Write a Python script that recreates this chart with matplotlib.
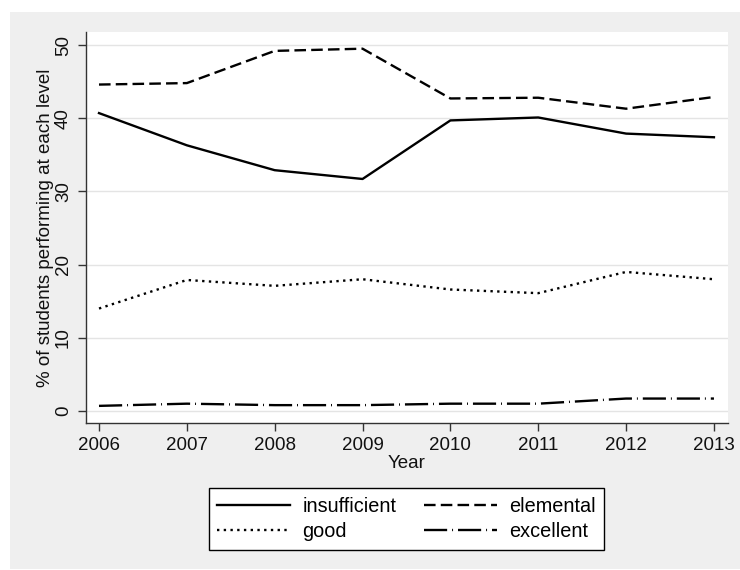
import matplotlib
matplotlib.use("Agg")
import matplotlib.pyplot as plt
from matplotlib.patches import Rectangle

plt.rcParams['font.family'] = ['Liberation Sans', 'DejaVu Sans']

years = [2006, 2007, 2008, 2009, 2010, 2011, 2012, 2013]
insufficient = [40.7, 36.3, 32.9, 31.7, 39.7, 40.1, 37.9, 37.4]
elemental = [44.6, 44.8, 49.2, 49.5, 42.7, 42.8, 41.3, 42.9]
good = [14.0, 17.9, 17.1, 18.0, 16.6, 16.1, 19.0, 18.0]
excellent = [0.7, 1.0, 0.8, 0.8, 1.0, 1.0, 1.7, 1.7]
y_ticks = [0, 10, 20, 30, 40, 50]

W, H = 740, 570
fig = plt.figure(figsize=(W / 100, H / 100), dpi=100)
fig.patch.set_facecolor('white')
# light grey graph region behind the plot
fig.add_artist(Rectangle((10 / W, 1 - 569 / H), 730 / W, 557 / H,
                         transform=fig.transFigure, facecolor='#EFEFEF',
                         edgecolor='none', zorder=-10))

ax = fig.add_axes([86 / W, 1 - 423 / H, (728 - 86) / W, (423 - 32) / H])
ax.set_facecolor('white')

lw = 1.7
l_ins, = ax.plot(years, insufficient, color='black', lw=lw, linestyle='-', label='insufficient')
l_ele, = ax.plot(years, elemental, color='black', lw=lw, linestyle=(0, (4.9, 2.2)), label='elemental')
l_good, = ax.plot(years, good, color='black', lw=lw, linestyle=(0, (1.0, 1.85)), label='good')
l_exc, = ax.plot(years, excellent, color='black', lw=lw, linestyle=(0, (9.8, 2.1, 0.4, 2.1)), label='excellent')

ax.set_xlim(2005.852, 2013.16)
ax.set_ylim(-1.64, 51.78)
ax.set_xticks(years)
ax.set_yticks(y_ticks)
ax.set_yticklabels([str(v) for v in y_ticks], rotation=90, va='center')
ax.grid(axis='y', color='#E4E4E4', lw=1.0)
ax.set_axisbelow(True)

for s in ['top', 'right']:
    ax.spines[s].set_visible(False)
for s in ['left', 'bottom']:
    ax.spines[s].set_color('#333333')
    ax.spines[s].set_linewidth(1.0)
ax.tick_params(axis='both', labelsize=13.5, length=6, width=1.0,
               color='#333333', labelcolor='#111111', pad=4)

ax.set_xlabel('Year', fontsize=13.5, labelpad=1, color='#111111')
ax.set_ylabel('% of students performing at each level', fontsize=13.5,
              labelpad=1, color='#111111')

# two columns filled column-wise: rows read insufficient/elemental, good/excellent
handles = [l_ins, l_good, l_ele, l_exc]
labels = [h.get_label() for h in handles]
leg = fig.legend(handles, labels, ncol=2, loc='center',
                 bbox_to_anchor=(406.5 / W, 1 - 519 / H),
                 fontsize=14.3, frameon=True, fancybox=False, handlelength=3.67,
                 columnspacing=1.4, handletextpad=0.6, labelspacing=0.3,
                 borderpad=0.45, borderaxespad=0)
leg.get_frame().set_edgecolor('black')
leg.get_frame().set_linewidth(1.0)
leg.get_frame().set_facecolor('white')
leg.get_frame().set_alpha(1.0)

fig.savefig('out.png', dpi=100, facecolor=fig.get_facecolor())
